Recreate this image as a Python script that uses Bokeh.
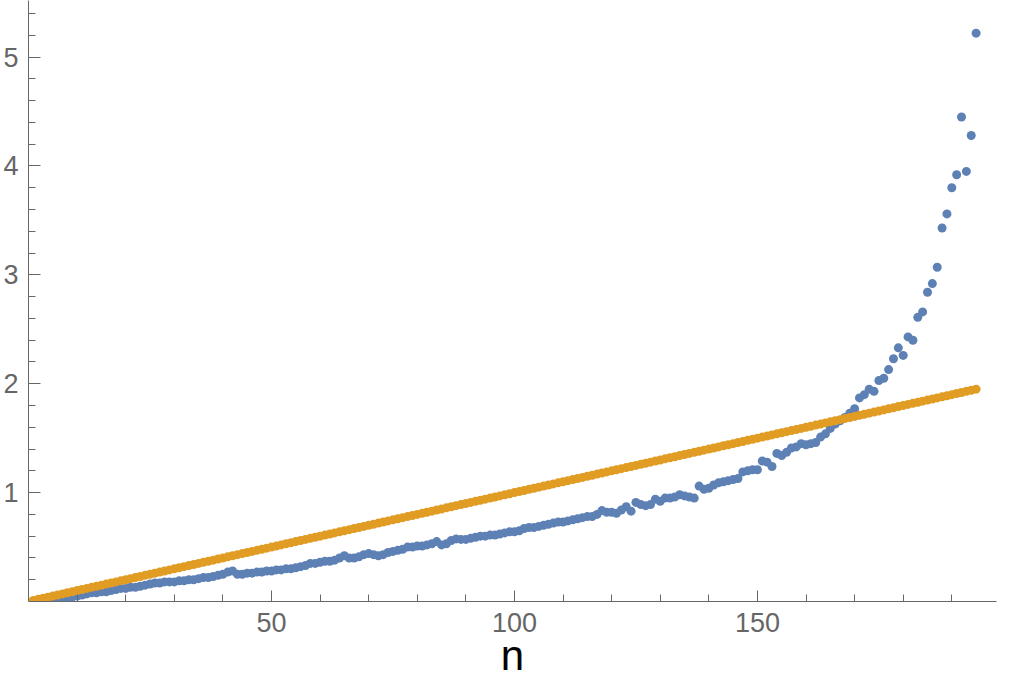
from bokeh.plotting import figure
from bokeh.models import Range1d, FixedTicker
from bokeh.embed import file_html
from bokeh.resources import INLINE

# ---- data ----
n = list(range(1, 196))

blue = [
    0.00, 0.01, 0.01, 0.02, 0.02, 0.02, 0.03, 0.03, 0.04, 0.05,
    0.06, 0.07, 0.08, 0.08, 0.09, 0.09, 0.10, 0.11, 0.12, 0.12,
    0.13, 0.13, 0.14, 0.15, 0.16, 0.17, 0.17, 0.18, 0.18, 0.18,
    0.19, 0.19, 0.20, 0.20, 0.21, 0.22, 0.22, 0.23, 0.24, 0.25,
    0.27, 0.28, 0.25, 0.25, 0.26, 0.26, 0.27, 0.27, 0.28, 0.28,
    0.29, 0.29, 0.30, 0.30, 0.31, 0.32, 0.33, 0.35, 0.35, 0.36,
    0.37, 0.37, 0.38, 0.40, 0.42, 0.40, 0.40, 0.41, 0.43, 0.44,
    0.43, 0.42, 0.43, 0.45, 0.46, 0.47, 0.48, 0.50, 0.50, 0.51,
    0.51, 0.52, 0.53, 0.55, 0.52, 0.53, 0.56, 0.575, 0.57, 0.57,
    0.58, 0.59, 0.60, 0.60, 0.61, 0.61, 0.62, 0.63, 0.64, 0.64,
    0.65, 0.67, 0.68, 0.68, 0.69, 0.70, 0.71, 0.72, 0.73, 0.73,
    0.74, 0.75, 0.76, 0.77, 0.78, 0.78, 0.80, 0.835, 0.82, 0.82,
    0.81, 0.84, 0.87, 0.83, 0.91, 0.89, 0.88, 0.89, 0.94, 0.92,
    0.95, 0.95, 0.96, 0.98, 0.97, 0.96, 0.95, 1.06, 1.03, 1.04,
    1.07, 1.09, 1.10, 1.11, 1.12, 1.13, 1.19, 1.20, 1.21, 1.21,
    1.29, 1.28, 1.24, 1.36, 1.34, 1.37, 1.41, 1.42, 1.45, 1.44,
    1.45, 1.46, 1.51, 1.54, 1.59, 1.63, 1.66, 1.69, 1.73, 1.77,
    1.87, 1.90, 1.95, 1.93, 2.03, 2.05, 2.13, 2.23, 2.33, 2.26,
    2.43, 2.40, 2.61, 2.66, 2.84, 2.92, 3.07, 3.43, 3.56, 3.80,
    3.92, 4.45, 3.95, 4.28, 5.22,
]

orange = [
    0.01, 0.02, 0.03, 0.04, 0.05, 0.06, 0.07, 0.08, 0.09, 0.10,
    0.11, 0.12, 0.13, 0.14, 0.15, 0.16, 0.17, 0.18, 0.19, 0.20,
    0.21, 0.22, 0.23, 0.24, 0.25, 0.26, 0.27, 0.28, 0.29, 0.30,
    0.31, 0.32, 0.33, 0.34, 0.35, 0.36, 0.37, 0.38, 0.39, 0.40,
    0.41, 0.42, 0.43, 0.44, 0.45, 0.46, 0.47, 0.48, 0.49, 0.50,
    0.51, 0.52, 0.53, 0.54, 0.55, 0.56, 0.57, 0.58, 0.59, 0.60,
    0.61, 0.62, 0.63, 0.64, 0.65, 0.66, 0.67, 0.68, 0.69, 0.70,
    0.71, 0.72, 0.73, 0.74, 0.75, 0.76, 0.77, 0.78, 0.79, 0.80,
    0.81, 0.82, 0.83, 0.84, 0.85, 0.86, 0.87, 0.88, 0.89, 0.90,
    0.91, 0.92, 0.93, 0.94, 0.95, 0.96, 0.97, 0.98, 0.99, 1.00,
    1.01, 1.02, 1.03, 1.04, 1.05, 1.06, 1.07, 1.08, 1.09, 1.10,
    1.11, 1.12, 1.13, 1.14, 1.15, 1.16, 1.17, 1.18, 1.19, 1.20,
    1.21, 1.22, 1.23, 1.24, 1.25, 1.26, 1.27, 1.28, 1.29, 1.30,
    1.31, 1.32, 1.33, 1.34, 1.35, 1.36, 1.37, 1.38, 1.39, 1.40,
    1.41, 1.42, 1.43, 1.44, 1.45, 1.46, 1.47, 1.48, 1.49, 1.50,
    1.51, 1.52, 1.53, 1.54, 1.55, 1.56, 1.57, 1.58, 1.59, 1.60,
    1.61, 1.62, 1.63, 1.64, 1.65, 1.66, 1.67, 1.68, 1.69, 1.70,
    1.71, 1.72, 1.73, 1.74, 1.75, 1.76, 1.77, 1.78, 1.79, 1.80,
    1.81, 1.82, 1.83, 1.84, 1.85, 1.86, 1.87, 1.88, 1.89, 1.90,
    1.91, 1.92, 1.93, 1.94, 1.95,
]

x_major = [50, 100, 150]
x_minor = [10, 20, 30, 40, 60, 70, 80, 90, 110, 120, 130, 140, 160, 170, 180, 190]
y_major = [1, 2, 3, 4, 5]
y_minor = [0.2, 0.4, 0.6, 0.8, 1.2, 1.4, 1.6, 1.8, 2.2, 2.4, 2.6, 2.8,
           3.2, 3.4, 3.6, 3.8, 4.2, 4.4, 4.6, 4.8, 5.2, 5.4]
x_title = "n"

BLUE = "#5E81B5"
ORANGE = "#E19C24"
AXIS = "#666666"
FONT = "Liberation Sans"

p = figure(width=1010, height=686, output_backend="svg", toolbar_location=None,
           x_range=Range1d(0, 199.2), y_range=Range1d(0, 5.52),
           min_border_left=24, min_border_right=14, min_border_top=0,
           min_border_bottom=85)

p.scatter(n, blue, size=9, fill_color=BLUE, line_color=None)
p.scatter(n, orange, size=9, fill_color=ORANGE, line_color=None)

p.grid.visible = False
p.outline_line_color = None

for ax in (p.xaxis, p.yaxis):
    ax.axis_line_color = AXIS
    ax.major_tick_line_color = AXIS
    ax.minor_tick_line_color = AXIS
    ax.major_tick_out = 0
    ax.minor_tick_out = 0
    ax.minor_tick_in = 7
    ax.major_label_text_color = AXIS
    ax.major_label_text_font = FONT
    ax.major_label_text_font_size = "27px"

p.xaxis.ticker = FixedTicker(ticks=x_major, minor_ticks=x_minor)
p.yaxis.ticker = FixedTicker(ticks=y_major, minor_ticks=y_minor)
p.xaxis.major_tick_in = 11
p.yaxis.major_tick_in = 12
p.xaxis.major_label_standoff = 11
p.yaxis.major_label_standoff = 10

p.xaxis.axis_label = x_title
p.xaxis.axis_label_text_font = FONT
p.xaxis.axis_label_text_font_size = "42px"
p.xaxis.axis_label_text_font_style = "normal"
p.xaxis.axis_label_text_color = "#000000"
p.xaxis.axis_label_standoff = -3

open("out.html", "w").write(file_html(p, INLINE))
